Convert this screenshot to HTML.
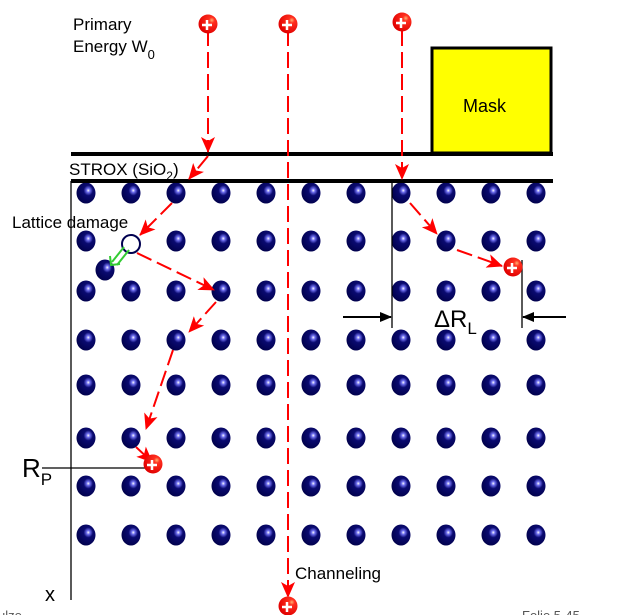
<!DOCTYPE html>
<html><head><meta charset="utf-8"><style>
html,body{margin:0;padding:0;background:#fff;}
svg{display:block;font-family:"Liberation Sans",Arial,sans-serif;}
</style></head><body>
<svg id="s" width="621" height="615" viewBox="0 0 621 615">
<defs>
<radialGradient id="atomG" cx="0.62" cy="0.38" r="0.7">
<stop offset="0" stop-color="#ffffff"/><stop offset="0.13" stop-color="#7070f0"/><stop offset="0.35" stop-color="#0a0a70"/><stop offset="1" stop-color="#000048"/>
</radialGradient>
<radialGradient id="ionG" cx="0.7" cy="0.3" r="0.75">
<stop offset="0" stop-color="#ffb070"/><stop offset="0.2" stop-color="#ff3020"/><stop offset="1" stop-color="#e00000"/>
</radialGradient>
<marker id="ah" markerWidth="16" markerHeight="14" refX="15" refY="7" orient="auto" markerUnits="userSpaceOnUse"><path d="M0,0 L16,7 L0,14 L4,7 Z" fill="#ff0000"/></marker>
<marker id="bh" markerWidth="12" markerHeight="12" refX="11" refY="6" orient="auto" markerUnits="userSpaceOnUse"><path d="M0,1 L12,6 L0,11 Z" fill="#000"/></marker>
</defs>
<g id="atoms"></g>
<rect x="432" y="48" width="119" height="105" fill="#ffff00" stroke="#000" stroke-width="3"/>
<text x="463" y="112" font-size="18">Mask</text>
<line x1="71" y1="154" x2="553" y2="154" stroke="#000" stroke-width="4"/>
<line x1="71" y1="181" x2="553" y2="181" stroke="#000" stroke-width="4"/>
<line x1="71" y1="181" x2="71" y2="600" stroke="#000" stroke-width="1.3"/>
<text x="73" y="30" font-size="17">Primary</text>
<text x="73" y="52" font-size="17">Energy W<tspan font-size="13" dy="7">0</tspan></text>
<text x="69" y="175" font-size="17">STROX (SiO<tspan font-size="12" dy="5">2</tspan><tspan dy="-5">)</tspan></text>
<text x="12" y="228" font-size="17">Lattice damage</text>
<text x="295" y="579" font-size="17">Channeling</text>
<text x="22" y="477" font-size="26">R<tspan font-size="17" dy="8">P</tspan></text>
<text x="45" y="601" font-size="20">x</text>
<text x="434" y="327" font-size="24">ΔR<tspan font-size="17" dy="7">L</tspan></text>
<text x="-2" y="620" font-size="13" fill="#555">ulze</text>
<text x="522" y="620" font-size="13" fill="#555">Folie 5-45</text>
<line x1="42" y1="468" x2="148" y2="468" stroke="#000" stroke-width="1.3"/>
<line x1="392" y1="181" x2="392" y2="328" stroke="#000" stroke-width="1.3"/>
<line x1="522" y1="260" x2="522" y2="328" stroke="#000" stroke-width="1.3"/>
<line x1="343" y1="317" x2="391" y2="317" stroke="#000" stroke-width="2" marker-end="url(#bh)"/>
<line x1="566" y1="317" x2="523" y2="317" stroke="#000" stroke-width="2" marker-end="url(#bh)"/>
<circle cx="131" cy="244" r="9" fill="#fff" stroke="#000050" stroke-width="2"/>
<g stroke="#33cc33" stroke-width="2" fill="none">
<line x1="124" y1="247" x2="112" y2="262"/><line x1="129" y1="250" x2="117" y2="265"/>
<path d="M110,256 L111,265 L120,264"/>
</g>
<g id="paths" stroke="#ff0000" stroke-width="2" fill="none" stroke-dasharray="16,6">
<line x1="208" y1="30" x2="208" y2="152" marker-end="url(#ah)"/>
<line x1="208" y1="156" x2="189" y2="179" marker-end="url(#ah)"/>
<line x1="172" y1="203" x2="140" y2="235" marker-end="url(#ah)"/>
<line x1="137" y1="253" x2="214" y2="290" marker-end="url(#ah)"/>
<line x1="216" y1="302" x2="189" y2="332" marker-end="url(#ah)"/>
<line x1="173" y1="350" x2="146" y2="429" marker-end="url(#ah)"/>
<line x1="136" y1="447" x2="152" y2="462" marker-end="url(#ah)"/>
<line x1="288" y1="30" x2="288" y2="597" marker-end="url(#ah)"/>
<line x1="402" y1="30" x2="402" y2="179" marker-end="url(#ah)"/>
<line x1="410" y1="203" x2="437" y2="234" marker-end="url(#ah)"/>
<line x1="457" y1="250" x2="502" y2="266" marker-end="url(#ah)"/>
</g>
<g id="ions"></g>
</svg>
<script>
const colsX=[86,131,176,221,266,311,356,401,446,491,536];
const rowsY=[193,241,291,340,385,438,486,535];
const ionX=[208,288,402,153,513,288];
const ionY=[24,24,22,464,267,606];
const NS="http://www.w3.org/2000/svg";
const ag=document.getElementById('atoms');
rowsY.forEach((y,ri)=>colsX.forEach((x,ci)=>{
  if(ri===1&&ci===1)return;
  const e=document.createElementNS(NS,'ellipse');
  e.setAttribute('cx',x);e.setAttribute('cy',y);e.setAttribute('rx',9.5);e.setAttribute('ry',10.5);
  e.setAttribute('fill','url(#atomG)');
  
  
  ag.appendChild(e);
}));
const d=document.createElementNS(NS,'ellipse');
d.setAttribute('cx',105);d.setAttribute('cy',270);d.setAttribute('rx',9.5);d.setAttribute('ry',10.5);d.setAttribute('fill','url(#atomG)');


ag.appendChild(d);
const ig=document.getElementById('ions');
ionX.forEach((x,i)=>{
  const y=ionY[i];
  const g=document.createElementNS(NS,'g');
  
  
  g.innerHTML=`<circle cx="${x}" cy="${y}" r="9.5" fill="url(#ionG)"/><path d="M${x-6},${y+1} h10 M${x-1},${y-4} v10" stroke="#fff" stroke-width="2.5"/>`;
  ig.appendChild(g);
});
</script>
</body></html>
